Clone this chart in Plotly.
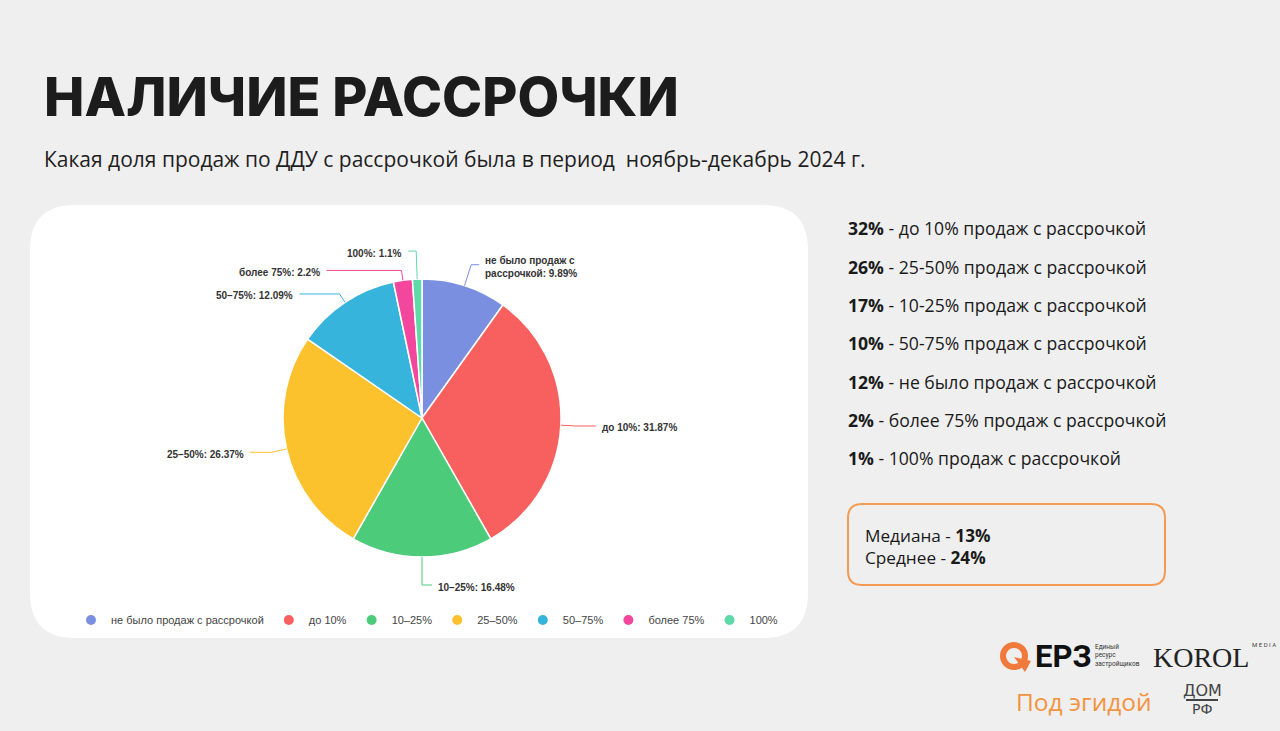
import math
import plotly.graph_objects as go

# ---------------- data ----------------
categories = ["не было продаж с рассрочкой", "до 10%", "10–25%", "25–50%", "50–75%", "более 75%", "100%"]
slice_names = ["не было продаж с<br>рассрочкой", "до 10%", "10–25%", "25–50%", "50–75%", "более 75%", "100%"]
values = [9.89, 31.87, 16.48, 26.37, 12.09, 2.2, 1.1]
colors = ["#7b8fe0", "#f8605f", "#4ccb7b", "#fcc22e", "#37b4db", "#f2479c", "#5fd9a8"]

summary_pcts = ["32%", "26%", "17%", "10%", "12%", "2%", "1%"]
summary_texts = ["до 10% продаж с рассрочкой", "25-50% продаж с рассрочкой",
                 "10-25% продаж с рассрочкой", "50-75% продаж с рассрочкой",
                 "не было продаж с рассрочкой", "более 75% продаж с рассрочкой",
                 "100% продаж с рассрочкой"]
median_val = "13%"
mean_val = "24%"

title_text = "НАЛИЧИЕ РАССРОЧКИ"
subtitle_text = "Какая доля продаж по ДДУ с рассрочкой была в период  ноябрь-декабрь 2024 г."

# ---------------- layout constants ----------------
W, H = 1280, 731
CX, CY, R = 422, 418, 139
# leader line tuning per slice: radial length, horizontal length, elbow shift
lead1 = [22, 15, 24, 15, 10, 10, 28]
lead2 = [8, 20, 10, 22, 40, 75, 8]
elbow_dy = [0, 0, 4, 0, 0, 0, 0]

fig = go.Figure()

fig.add_trace(go.Pie(
    values=values, labels=categories, sort=False, direction="clockwise", rotation=0,
    marker=dict(colors=colors, line=dict(color="white", width=1.5)),
    textinfo="none", hoverinfo="label+percent", showlegend=False,
    domain=dict(x=[(CX - R) / W, (CX + R) / W], y=[1 - (CY + R) / H, 1 - (CY - R) / H]),
))

# legend via dummy scatter traces (circle markers)
for c, col in zip(categories, colors):
    fig.add_trace(go.Scatter(x=[None], y=[None], mode="markers", name=c,
                             marker=dict(size=10, color=col, symbol="circle"),
                             showlegend=True, hoverinfo="skip"))

shapes = []
annotations = []

def rrect(x0, y0, x1, y1, r):
    return (f"M {x0+r} {y0} L {x1-r} {y0} Q {x1} {y0} {x1} {y0+r} "
            f"L {x1} {y1-r} Q {x1} {y1} {x1-r} {y1} L {x0+r} {y1} "
            f"Q {x0} {y1} {x0} {y1-r} L {x0} {y0+r} Q {x0} {y0} {x0+r} {y0} Z")

# white card
shapes.append(dict(type="path", path=rrect(30, 205, 808, 638, 45), xref="x", yref="y",
                   fillcolor="white", line=dict(width=0), layer="below"))
# orange box
shapes.append(dict(type="path", path=rrect(848, 504, 1165, 585, 14), xref="x", yref="y",
                   fillcolor="rgba(0,0,0,0)", line=dict(color="#f49a52", width=2)))

# leader lines + slice labels computed from the data
total = sum(values)
cum = 0.0
for i, v in enumerate(values):
    mid = math.radians((cum + v / 2) / total * 360)
    cum += v
    dx, dy = math.sin(mid), -math.cos(mid)
    p0 = (CX + R * dx, CY + R * dy)
    p1 = (CX + (R + lead1[i]) * dx, CY + (R + lead1[i]) * dy + elbow_dy[i])
    side = 1 if dx > -1e-9 else -1
    p2 = (p1[0] + side * lead2[i], p1[1])
    path = f"M {p0[0]} {p0[1]} L {p1[0]} {p1[1]} L {p2[0]} {p2[1]}"
    shapes.append(dict(type="path", path=path, xref="x", yref="y",
                       line=dict(color=colors[i], width=1)))
    annotations.append(dict(x=p2[0] + side * 4, y=p2[1] + 2, xref="x", yref="y",
                            text=f"<b>{slice_names[i]}: {v}%</b>", showarrow=False,
                            xanchor="left" if side > 0 else "right", yanchor="middle",
                            align="left",
                            font=dict(family="Liberation Sans", size=10, color="#333333")))

# title / subtitle
annotations.append(dict(x=42, y=96, xref="x", yref="y", text=title_text, showarrow=False,
                        xanchor="left", yanchor="middle",
                        font=dict(family="Inter", size=54, color="#1c1c1c", weight=800)))
annotations.append(dict(x=42, y=159, xref="x", yref="y", text=subtitle_text, showarrow=False,
                        xanchor="left", yanchor="middle",
                        font=dict(family="Open Sans", size=21, color="#1e1e1e")))

# right summary list
list_y = [228, 267, 305, 343, 382, 420, 458]
for yy, p, t in zip(list_y, summary_pcts, summary_texts):
    annotations.append(dict(x=846, y=yy, xref="x", yref="y", text=f"<b>{p}</b> - {t}",
                            showarrow=False, xanchor="left", yanchor="middle",
                            font=dict(family="Open Sans", size=17.6, color="#1a1a1a")))

annotations.append(dict(x=863, y=546, xref="x", yref="y",
                        text=f"Медиана - <b>{median_val}</b><br>Среднее - <b>{mean_val}</b>",
                        showarrow=False, xanchor="left", yanchor="middle", align="left",
                        font=dict(family="Open Sans", size=17.2, color="#1a1a1a")))

# logos
shapes.append(dict(type="circle", xref="x", yref="y", x0=1003, y0=645, x1=1025, y1=667,
                   line=dict(color="#f07a3c", width=6)))
shapes.append(dict(type="path", xref="x", yref="y", path="M 1014 657 L 1031 661 L 1025 672 Z",
                   fillcolor="#f07a3c", line=dict(width=0)))
annotations.append(dict(x=1033, y=656, xref="x", yref="y", text="<b>ЕРЗ</b>", showarrow=False,
                        xanchor="left", yanchor="middle",
                        font=dict(family="Roboto", size=31, color="#111111")))
annotations.append(dict(x=1093, y=655, xref="x", yref="y", text="Единый<br>ресурс<br>застройщиков",
                        showarrow=False, xanchor="left", yanchor="middle", align="left",
                        font=dict(family="Roboto", size=6.5, color="#333333")))
annotations.append(dict(x=1151, y=657, xref="x", yref="y", text="KOROL", showarrow=False,
                        xanchor="left", yanchor="middle",
                        font=dict(family="Liberation Serif", size=28, color="#222222")))
annotations.append(dict(x=1250, y=644, xref="x", yref="y", text="M E D I A", showarrow=False,
                        xanchor="left", yanchor="middle",
                        font=dict(family="Roboto", size=6, color="#444444")))
annotations.append(dict(x=1014, y=701, xref="x", yref="y", text="Под эгидой", showarrow=False,
                        xanchor="left", yanchor="middle",
                        font=dict(family="Open Sans", size=24.5, color="#f4933f")))
annotations.append(dict(x=1202, y=690, xref="x", yref="y", text="ДОМ", showarrow=False,
                        xanchor="center", yanchor="middle",
                        font=dict(family="DejaVu Sans", size=16, color="#444444")))
annotations.append(dict(x=1202, y=709, xref="x", yref="y", text="РФ", showarrow=False,
                        xanchor="center", yanchor="middle",
                        font=dict(family="DejaVu Sans", size=14, color="#444444")))
shapes.append(dict(type="line", xref="x", yref="y", x0=1186, x1=1218, y0=700, y1=700,
                   line=dict(color="#444444", width=2)))

fig.update_layout(
    width=W, height=H,
    margin=dict(l=0, r=0, t=0, b=0),
    paper_bgcolor="#efefef", plot_bgcolor="rgba(0,0,0,0)",
    xaxis=dict(range=[0, W], visible=False, fixedrange=True, domain=[0, 1]),
    yaxis=dict(range=[H, 0], visible=False, fixedrange=True, domain=[0, 1]),
    shapes=shapes, annotations=annotations,
    legend=dict(orientation="h", x=71 / W, y=1 - 620 / H, xanchor="left", yanchor="middle",
                bgcolor="rgba(0,0,0,0)", itemwidth=30,
                font=dict(family="Liberation Sans", size=11, color="#444444")),
    showlegend=True,
)

fig.write_html("out.html", config={"displayModeBar": False},
               post_script="document.body.style.margin='0';document.body.style.overflow='hidden';")
